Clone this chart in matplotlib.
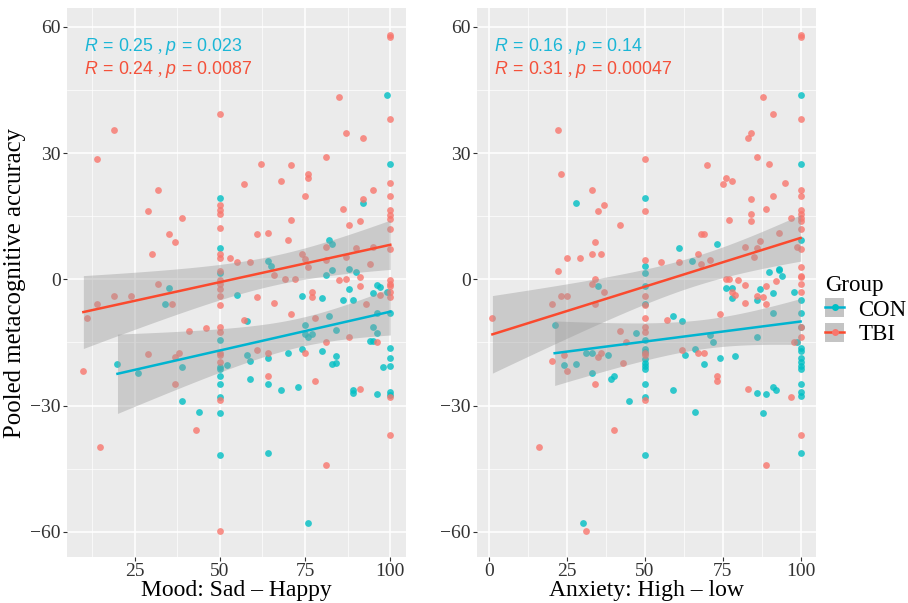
import numpy as np
import matplotlib
matplotlib.use("Agg")
import matplotlib.pyplot as plt
from matplotlib.lines import Line2D
from matplotlib.patches import Patch

# ---- data ----
# Mood panel, CON
mood_con_x = [99, 100, 50, 92, 50, 82, 83, 64, 65, 83, 81, 88, 90, 50, 35, 55, 74, 80, 88, 95, 96, 97, 99, 86, 89,
              34, 20, 26, 39, 39, 44, 50, 50, 50, 50, 50, 50, 50, 50, 52, 58, 58, 59, 59, 64, 64, 64, 68, 70, 73,
              74, 75, 75, 76, 77, 76, 80, 82, 83, 84, 84, 84, 89, 89, 94, 95, 95, 96, 96, 96, 98, 100, 100, 100,
              100, 100, 100]
mood_con_y = [43.8, 27.3, 19.3, 18.2, 7.4, 9.3, 8.4, 4.3, 3.2, 2.2, 1.0, 2.5, 1.7, 1.4, -2.0, -3.8, -3.9, -4.5, -2.2,
              -3.2, -1.4, -1.9, -3.0, -4.9, -4.9,
              -5.8, -20.1, -22.3, -20.8, -29.0, -31.5, -14.4, -20.8, -21.2, -22.9, -24.9, -28.0, -31.7, -41.7,
              -20.3, -10.0, -17.9, -19.3, -23.8, -18.7, -24.9, -41.3, -26.2, -17.4, -25.7, -16.6, -10.8, -13.0,
              -13.6, -13.0, -57.9, -17.0, -8.8, -20.1, -19.9, -12.0, -18.2, -26.2, -27.1, -14.7, -14.7, -11.4,
              -12.8, -7.9, -27.2, -20.8, -8.0, -16.4, -18.7, -20.7, -26.7, -27.5]
# Mood panel, TBI
mood_tbi_x = [100, 100, 85, 50, 19, 100, 87, 92, 14, 81, 62, 71, 76, 76, 57, 68, 75, 32, 95, 100, 100, 50, 50, 50,
              92, 29, 39, 86, 100, 100, 100, 100, 71, 88, 91, 50, 35, 37, 61, 64, 70, 30, 50, 50, 81, 90, 95, 100,
              74, 75, 76, 81, 87, 94, 53, 55, 59, 66, 69, 72, 85, 87, 91, 50, 50, 50, 50, 50, 32, 19, 24, 61, 77,
              77, 91, 97, 100, 100, 100, 100, 100,
              14, 36, 11, 10, 15, 29, 37, 38, 37, 43, 41, 46, 50, 50, 50, 50, 50, 50, 50, 50, 57, 61, 64, 64, 66,
              71, 75, 78, 78, 81, 81, 88, 91, 93, 96, 100, 100]
mood_tbi_y = [58.2, 57.7, 43.3, 39.3, 35.4, 38.0, 34.7, 33.7, 28.6, 29.0, 27.4, 27.2, 25.0, 24.1, 22.7, 23.3, 19.7,
              21.2, 21.2, 23.0, 19.7, 17.7, 16.4, 15.6, 19.1, 16.3, 14.7, 16.8, 16.6, 15.2, 14.3, 12.0, 14.2, 13.0,
              13.8, 12.1, 10.7, 8.8, 10.7, 11.0, 9.3, 6.0, 6.0, 5.0, 7.7, 7.4, 7.7, 7.1, 6.0, 4.8, 3.0, 4.5, 5.3,
              3.7, 5.0, 4.2, 4.2, 1.0, 0.0, 0.0, -0.2, 0.2, 0.6, 2.0, -0.2, -1.1, -2.4, -3.9, -1.0, -3.9, -3.9,
              -4.3, -3.1, -4.3, -1.7, -3.7, -0.2, -1.0, -1.6, -3.0, -4.1,
              -5.8, -5.8, -9.1, -21.9, -39.9, -17.8, -18.4, -17.5, -24.9, -35.8, -12.2, -11.6, -6.2, -11.4, -12.4,
              -17.4, -18.0, -19.7, -28.6, -59.8, -9.7, -16.8, -17.5, -23.0, -5.7, -8.3, -17.4, -9.1, -24.1, -14.8,
              -44.2, -13.8, -26.0, -5.9, -14.8, -27.9, -37.1]

# Anxiety panel, CON
anx_con_x = [100, 100, 28, 50, 100, 73, 61, 65, 50, 50, 93, 93, 90, 94, 35, 76, 78, 87, 50, 91, 98, 100,
             21, 24, 28, 31, 33, 33, 38, 39, 40, 45, 47, 30, 50, 50, 50, 50, 50, 50, 50, 50, 50, 50, 50, 59, 59,
             62, 63, 66, 66, 69, 71, 72, 74, 78, 79, 86, 86, 86, 88, 89, 91, 91, 92, 99, 100, 100, 100, 100, 100,
             100, 100, 100, 100, 100, 100, 100]
anx_con_y = [43.8, 27.3, 18.2, 19.3, 9.3, 8.4, 7.4, 4.3, 3.2, 1.4, 2.4, 2.2, 1.7, 0.9, -1.5, -2.0, -2.0, -2.2, -1.5,
             -3.2, -3.0, -4.9,
             -10.8, -20.3, -20.1, -17.5, -17.4, -22.3, -17.9, -23.8, -22.9, -29.0, -12.7, -57.9, -5.8, -14.4,
             -16.6, -17.2, -18.9, -19.9, -20.7, -21.2, -24.9, -28.0, -41.7, -8.8, -26.2, -10.0, -18.0, -16.6,
             -31.5, -20.1, -13.2, -14.8, -18.6, -4.5, -18.2, -5.0, -13.7, -27.1, -31.7, -27.2, -7.9, -25.7,
             -26.2, -14.8, -8.0, -11.4, -16.4, -17.1, -18.7, -19.7, -20.7, -21.2, -24.9, -26.7, -27.8, -41.3]
# Anxiety panel, TBI
anx_tbi_x = [100, 100, 88, 91, 100, 22, 84, 83, 23, 50, 86, 70, 90, 76, 78, 75, 95, 33, 100, 100, 91, 84, 50, 37,
             35, 89, 100, 100, 100, 100, 77, 84, 84, 97, 42, 100, 93, 68, 69, 34, 87, 82, 86, 99, 100, 25, 29, 33,
             36, 67, 85, 50, 55, 61, 71, 68, 22, 100, 100, 100, 76, 77, 80, 34, 33, 100, 100, 82, 89, 92, 37, 23,
             25, 50, 78, 79, 86, 88,
             20, 34, 1, 20, 24, 25, 34, 35, 36, 40, 42, 43, 44, 16, 31, 50, 50, 50, 50, 50, 50, 50, 57, 62, 67,
             69, 73, 73, 74, 82, 83, 89, 89, 97, 98, 100, 100, 100]
anx_tbi_y = [58.2, 57.7, 43.3, 39.2, 38.0, 35.4, 34.7, 33.7, 25.0, 28.6, 29.0, 27.2, 27.4, 24.1, 23.3, 22.7, 23.0,
             21.2, 21.2, 19.7, 19.7, 19.1, 16.3, 17.7, 16.3, 16.8, 16.6, 15.6, 14.7, 13.9, 14.2, 15.5, 13.8, 14.6,
             12.9, 12.0, 11.0, 10.7, 10.7, 8.8, 9.2, 7.7, 7.4, 7.7, 7.3, 5.0, 5.0, 6.0, 6.0, 6.0, 5.3, 4.5, 4.2,
             4.2, 4.7, 3.7, 2.0, 3.0, 0.9, 0.5, 0.0, 0.0, -0.2, 0.0, -1.0, -1.1, -3.0, -1.3, -1.7, -0.4, -3.0,
             -3.9, -3.9, -3.9, -3.0, -3.8, -3.9, -4.1,
             -5.8, -5.8, -9.1, -19.5, -17.9, -21.9, -24.9, -18.4, -17.5, -35.8, -12.2, -19.9, -14.8, -39.9, -59.8,
             -6.2, -9.1, -11.4, -12.4, -17.5, -17.9, -28.6, -9.7, -16.8, -17.4, -17.5, -22.9, -24.1, -8.3, -5.7,
             -26.0, -5.9, -44.2, -27.9, -14.8, -11.4, -13.8, -37.1]

mood_labels = {"CON": r"$R\,=\,0.25$ , $p\,=\,0.023$", "TBI": r"$R\,=\,0.24$ , $p\,=\,0.0087$"}
anx_labels = {"CON": r"$R\,=\,0.16$ , $p\,=\,0.14$", "TBI": r"$R\,=\,0.31$ , $p\,=\,0.00047$"}

COLORS = {"CON": "#00BFC4", "TBI": "#F8766D"}
LINE_COLORS = {"CON": "#00B4D0", "TBI": "#FA4A2E"}
TEXT_COLORS = {"CON": "#1BB6D6", "TBI": "#F4513A"}

plt.rcParams["mathtext.fontset"] = "custom"
plt.rcParams["mathtext.rm"] = "Liberation Sans"
plt.rcParams["mathtext.it"] = "Liberation Sans:italic"
plt.rcParams["font.family"] = ["Liberation Serif", "DejaVu Serif"]


def lm_band(x, y, t=1.98, n_pts=80):
    x = np.asarray(x, float)
    y = np.asarray(y, float)
    b, a = np.polyfit(x, y, 1)
    xs = np.linspace(x.min(), x.max(), n_pts)
    fit = a + b * xs
    resid = y - (a + b * x)
    s = np.sqrt(np.sum(resid ** 2) / (len(x) - 2))
    se = s * np.sqrt(1 / len(x) + (xs - x.mean()) ** 2 / np.sum((x - x.mean()) ** 2))
    return xs, fit, fit - t * se, fit + t * se


def draw_panel(ax, groups, labels, xlim, xticks, xminor, xlabel):
    ax.set_facecolor("#EBEBEB")
    for name, (x, y) in groups.items():
        ax.scatter(x, y, s=24, color=COLORS[name], alpha=0.8, linewidths=0, zorder=3)
    for name, (x, y) in groups.items():
        xs, fit, lo, hi = lm_band(x, y)
        ax.fill_between(xs, lo, hi, color="#999999", alpha=0.4, linewidth=0, zorder=4)
        ax.plot(xs, fit, color=LINE_COLORS[name], lw=1.8, zorder=5)
    ax.set_xlim(*xlim)
    ax.set_ylim(-66, 64.5)
    ax.set_xticks(xticks)
    ax.set_xticks(xminor, minor=True)
    ax.set_yticks([-60, -30, 0, 30, 60])
    ax.set_yticks([-45, -15, 15, 45], minor=True)
    ax.grid(True, which="major", color="white", lw=1.1)
    ax.grid(True, which="minor", color="white", lw=0.5)
    ax.set_axisbelow(True)
    for sp in ax.spines.values():
        sp.set_visible(False)
    ax.tick_params(which="major", length=3, color="#333333", labelsize=14, labelcolor="#333333", pad=1.5)
    ax.tick_params(which="minor", length=0)
    ax.set_xlabel(xlabel, fontsize=17, labelpad=0)
    ax.text(0.05, 0.93, labels["CON"], transform=ax.transAxes, color=TEXT_COLORS["CON"],
            fontsize=12.8, va="center", ha="left", zorder=6)
    ax.text(0.05, 0.888, labels["TBI"], transform=ax.transAxes, color=TEXT_COLORS["TBI"],
            fontsize=12.8, va="center", ha="left", zorder=6)


fig = plt.figure(figsize=(9.08, 6.03), dpi=100)
ax1 = fig.add_axes([67 / 908, 1 - 557 / 603, 339 / 908, 549 / 603])
ax2 = fig.add_axes([477 / 908, 1 - 557 / 603, 339 / 908, 549 / 603])

draw_panel(ax1, {"CON": (mood_con_x, mood_con_y), "TBI": (mood_tbi_x, mood_tbi_y)}, mood_labels,
           (5.2, 104.6), [25, 50, 75, 100], [12.5, 37.5, 62.5, 87.5], "Mood: Sad \u2013 Happy")
draw_panel(ax2, {"CON": (anx_con_x, anx_con_y), "TBI": (anx_tbi_x, anx_tbi_y)}, anx_labels,
           (-3.95, 104.95), [0, 25, 50, 75, 100], [12.5, 37.5, 62.5, 87.5], "Anxiety: High \u2013 low")
ax1.set_ylabel("Pooled metacognitive accuracy", fontsize=17.8, labelpad=3)

handles = [(Patch(facecolor="#C4C4C4", edgecolor="none"),
            Line2D([], [], color=LINE_COLORS[g], lw=1.8, marker="o", markersize=5,
                   markerfacecolor=COLORS[g], markeredgewidth=0)) for g in ["CON", "TBI"]]
leg = fig.legend(handles, ["CON", "TBI"], title="Group", loc="center left",
                 bbox_to_anchor=(825 / 908, 1 - 310 / 603), frameon=False, fontsize=16.5,
                 title_fontsize=16.5, handlelength=0.85, handleheight=0.85, handletextpad=0.6,
                 labelspacing=0.12, borderaxespad=0, borderpad=0)
leg._legend_box.align = "left"

fig.savefig("out.png", dpi=100)
